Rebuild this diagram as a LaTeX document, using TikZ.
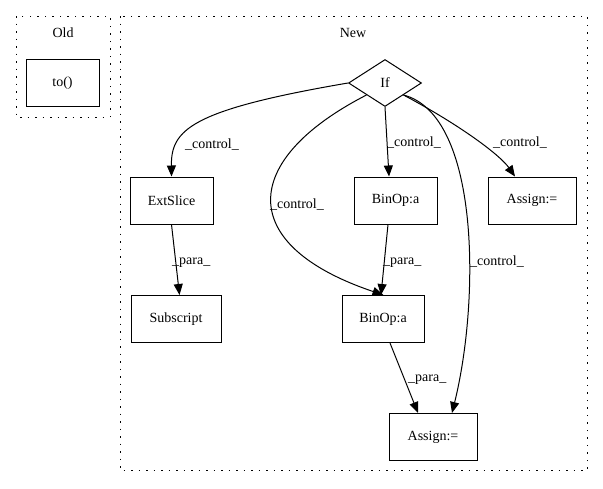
\documentclass[tikz,border=0pt]{standalone}
\usepackage{fontspec}
\setmainfont{Liberation Serif}
\usetikzlibrary{shapes.geometric,arrows.meta}

\begin{document}
\begin{tikzpicture}[
        x=1pt, y=-1pt,
        % --- styles ---
        every node/.style={font=\fontsize{14}{16}\selectfont},
        op/.style={draw, rectangle, line width=1pt, minimum height=47pt, inner sep=0pt},
        cond/.style={draw, diamond, aspect=1.55, line width=1pt, minimum width=73pt, minimum height=47pt, inner sep=0pt},
        lbl/.style={anchor=west, inner sep=0pt},
        grp/.style={draw, line width=1pt, dash pattern=on 1.5pt off 6pt},
        flow/.style={draw, ->, line width=1pt, >={Triangle[length=11pt,width=9pt]}},
        % --------------
    ]
    \useasboundingbox (0,0) rectangle (603,488);

    % clusters
    \draw[grp] (16,16) rectangle (110,117);
    \draw[grp] (120,16) rectangle (587,470);
    \node (oldt) at (63,33) {Old};
    \node (newt) at (353,33) {New};

    % Old
    \node[op, minimum width=73pt] (to) at (62.5,83) {to()};

    % New
    \node[cond] (if) at (385,83) {If};
    \node[op, minimum width=83pt] (ext) at (171.5,200.5) {ExtSlice};
    \node[op, minimum width=83pt] (bin1) at (395.5,200.5) {BinOp:a};
    \node[op, minimum width=88pt] (asg1) at (532,200.5) {Assign:=};
    \node[op, minimum width=90pt] (sub) at (176,319) {Subscript};
    \node[op, minimum width=82pt] (bin2) at (383,319) {BinOp:a};
    \node[op, minimum width=88pt] (asg2) at (433,437) {Assign:=};

    % control edges
    \draw[flow] (if.west) .. controls (190,110) and (171,130) .. (ext.north);
    \draw[flow] (if.south west) .. controls (240,160) and (235,245) .. ([xshift=-41pt]bin2.north east);
    \draw[flow] (if.south) -- ([xshift=-6.5pt]bin1.north);
    \draw[flow] (if.south east) .. controls (460,125) and (500,155) .. ([xshift=-17pt]asg1.north);
    \draw[flow] (if.south east) .. controls (480,115) and (480,300) .. ([xshift=19pt]asg2.north);

    % para edges
    \draw[flow] (ext.south) -- ([xshift=3.5pt]sub.north);
    \draw[flow] ([xshift=-7.5pt]bin1.south) -- ([xshift=-2pt]bin2.north);
    \draw[flow] ([xshift=7pt]bin2.south) -- ([xshift=-15pt]asg2.north);

    % labels
    \node[lbl] (l1) at (185,145) {\_control\_};
    \node[lbl] (l2) at (270,205) {\_control\_};
    \node[lbl] (l3) at (387,143) {\_control\_};
    \node[lbl] (l4) at (493,143) {\_control\_};
    \node[lbl] (l5) at (470,262) {\_control\_};
    \node[lbl] (l6) at (172,263) {\_para\_};
    \node[lbl] (l7) at (383,263) {\_para\_};
    \node[lbl] (l8) at (408,380) {\_para\_};
\end{tikzpicture}
\end{document}
